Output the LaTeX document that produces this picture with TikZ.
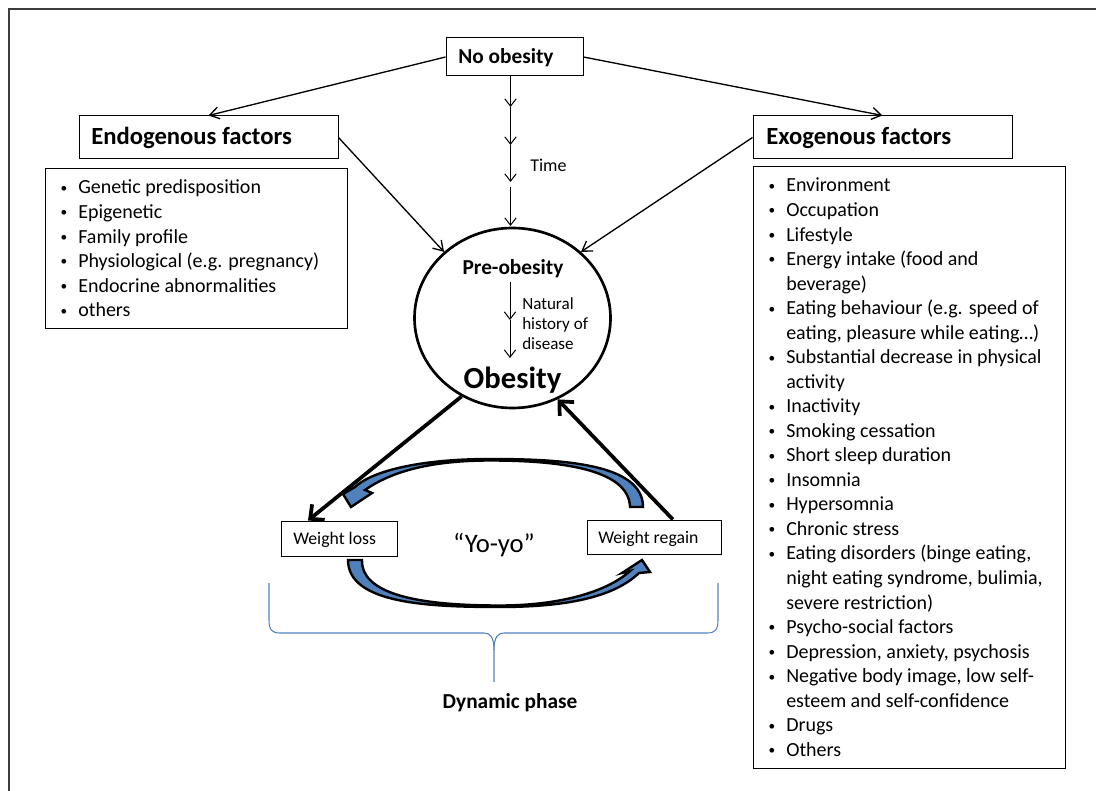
\documentclass[tikz,border=0pt]{standalone}
\usepackage{fontspec}
\setmainfont{Carlito}
\usetikzlibrary{arrows.meta,shapes.geometric,calc}
\definecolor{yoblue}{RGB}{79,129,189}
\definecolor{framegray}{RGB}{60,60,60}
\newcommand{\itm}[1]{\makebox[14.25pt][l]{\hspace*{1pt}\raisebox{1.2pt}{\fontsize{10}{10}\selectfont\textbullet}}#1}
\newcommand{\cnt}[1]{\hspace*{14.25pt}#1}
\begin{document}
\begin{tikzpicture}[x=0.75pt,y=-0.75pt,
  boxnode/.style={draw, line width=0.75pt, inner sep=0pt, rectangle},
  lbl/.style={inner sep=0pt, anchor=base west},
  thinarr/.style={line width=1pt, -{Straight Barb[length=7pt,width=9pt]}},
  timearr/.style={line width=0.75pt, -{Straight Barb[length=5.5pt,width=8.5pt]}},
  thickarr/.style={line width=2.8pt, -{Straight Barb[length=8pt,width=15pt]}},
  yoyo/.style={fill=yoblue, draw=black, line width=1.8pt, line join=miter},
  bracestyle/.style={draw=yoblue, line width=0.8pt}]
\useasboundingbox (0,0) rectangle (1096,791);
\draw[framegray, line width=1.5pt] (9,791) -- (9,9) -- (1096,9);

% boxes
\node[boxnode, minimum width=102.75pt, minimum height=28.5pt] (noob) at (514.5,57) {};
\node[boxnode, minimum width=194.25pt, minimum height=32.25pt] (endo) at (208.5,137.5) {};
\node[boxnode, minimum width=194.25pt, minimum height=32.25pt] (exo) at (882.5,137.5) {};
\node[boxnode, minimum width=226.5pt, minimum height=120pt] (endolist) at (196,249) {};
\node[boxnode, minimum width=234pt, minimum height=450.75pt] (exolist) at (909,467.5) {};
\node[boxnode, minimum width=87pt, minimum height=26.25pt] (wl) at (339,538.5) {};
\node[boxnode, minimum width=100.5pt, minimum height=25.5pt] (wr) at (654,537) {};
\node[draw, ellipse, line width=2pt, minimum width=147pt, minimum height=135pt, inner sep=0pt] (circ) at (512.5,318) {};

% texts
\node[lbl, font=\bfseries\fontsize{16}{19}\selectfont] (noobT) at (458,64) {No obesity};
\node[lbl, font=\bfseries\fontsize{18.5}{22}\selectfont] (endoT) at (91,145) {Endogenous factors};
\node[lbl, font=\bfseries\fontsize{18.5}{22}\selectfont] (exoT) at (766,145) {Exogenous factors};
\node[lbl, font=\fontsize{13.5}{16}\selectfont] (timeT) at (530,172) {Time};
\node[lbl, anchor=base, font=\bfseries\fontsize{16}{19}\selectfont] (preT) at (513,275) {Pre-obesity};
\node[lbl, font=\fontsize{12.8}{15}\selectfont] (natT) at (522,310) {\begin{tabular}[t]{@{}l@{}}Natural\\history of\\disease\end{tabular}};
\node[lbl, anchor=base, font=\bfseries\fontsize{23}{27}\selectfont] (obT) at (512.5,389) {Obesity};
\node[lbl, font=\fontsize{13.3}{16}\selectfont] (wlT) at (293,544) {Weight loss};
\node[lbl, font=\fontsize{13.3}{16}\selectfont] (wrT) at (598,543) {Weight regain};
\node[lbl, anchor=base, font=\fontsize{20}{24}\selectfont] (yoT) at (494,552) {“Yo-yo”};
\node[lbl, anchor=base, font=\bfseries\fontsize{16}{19}\selectfont] (dynT) at (510,708) {Dynamic phase};

\node[lbl, font=\fontsize{15}{18.4}\selectfont] (endoL) at (59,194) {\begin{tabular}[t]{@{}l@{}}
\itm{Genetic predisposition}\\
\itm{Epigenetic}\\
\itm{Family profile}\\
\itm{Physiological (e.g. pregnancy)}\\
\itm{Endocrine abnormalities}\\
\itm{others}
\end{tabular}};

\node[lbl, font=\fontsize{15}{18.4}\selectfont] (exoL) at (767,192) {\begin{tabular}[t]{@{}l@{}}
\itm{Environment}\\
\itm{Occupation}\\
\itm{Lifestyle}\\
\itm{Energy intake (food and}\\
\cnt{beverage)}\\
\itm{Eating behaviour (e.g. speed of}\\
\cnt{eating, pleasure while eating…)}\\
\itm{Substantial decrease in physical}\\
\cnt{activity}\\
\itm{Inactivity}\\
\itm{Smoking cessation}\\
\itm{Short sleep duration}\\
\itm{Insomnia}\\
\itm{Hypersomnia}\\
\itm{Chronic stress}\\
\itm{Eating disorders (binge eating,}\\
\cnt{night eating syndrome, bulimia,}\\
\cnt{severe restriction)}\\
\itm{Psycho-social factors}\\
\itm{Depression, anxiety, psychosis}\\
\itm{Negative body image, low self-}\\
\cnt{esteem and self-confidence}\\
\itm{Drugs}\\
\itm{Others}
\end{tabular}};

% connectors
\draw[thinarr] (noob.west) -- (endo.north);
\draw[thinarr] (noob.east) -- (exo.north);
\draw[thinarr] (endo.east) -- (circ.136);
\draw[thinarr] (exo.west) -- (circ.44);

\coordinate (t0) at ($(noob.south)+(-4,0)$);
\coordinate (t1) at (510.5,107);
\coordinate (t2) at (510.5,145);
\coordinate (t3) at (510.5,182);
\coordinate (t4) at (510.5,187);
\coordinate (t5) at (510.5,226);
\draw[timearr] (t0) -- (t1);
\draw[timearr] (t1) -- (t2);
\draw[timearr] (t2) -- (t3);
\draw[timearr] (t4) -- (t5);

\coordinate (n0) at (510,282);
\coordinate (n1) at (510,320);
\coordinate (n2) at (510,358);
\draw[timearr] (n0) -- (n1);
\draw[timearr] (n1) -- (n2);

\draw[thickarr] (circ.237) -- ($(wl.north west)!0.47!(wl.north)$);
\draw[thickarr] ($(wr.north)!0.28!(wr.north east)$) -- (circ.299);

% yo-yo curved arrows
\filldraw[yoyo] (643,507) .. controls (643,463) and (560,459) .. (490,459)
  .. controls (420,459) and (372,471) .. (355,487) -- (343,494) -- (351,507) -- (372,493) -- (365,490)
  .. controls (392,471) and (432,460.5) .. (490,460.5)
  .. controls (556,460.5) and (629,468) .. (630,507) -- cycle;
\filldraw[yoyo] (348,560) .. controls (348,604) and (430,607) .. (500,607)
  .. controls (570,607) and (615,596) .. (639,573) -- (650,572) -- (642,560) -- (622,573) -- (630,571)
  .. controls (608,591) and (562,605.5) .. (500,605.5)
  .. controls (432,605.5) and (361,598) .. (362,560) -- cycle;

% brace
\draw[bracestyle] (269,583) -- (269,620) .. controls (269,630) and (272,633) .. (280,633)
  -- (484,633) .. controls (490,633) and (494,637) .. (494,650) -- (494,682);
\draw[bracestyle] (494,650) .. controls (494,637) and (498,633) .. (504,633)
  -- (707,633) .. controls (715,633) and (718,630) .. (718,620) -- (718,583);
\end{tikzpicture}
\end{document}
